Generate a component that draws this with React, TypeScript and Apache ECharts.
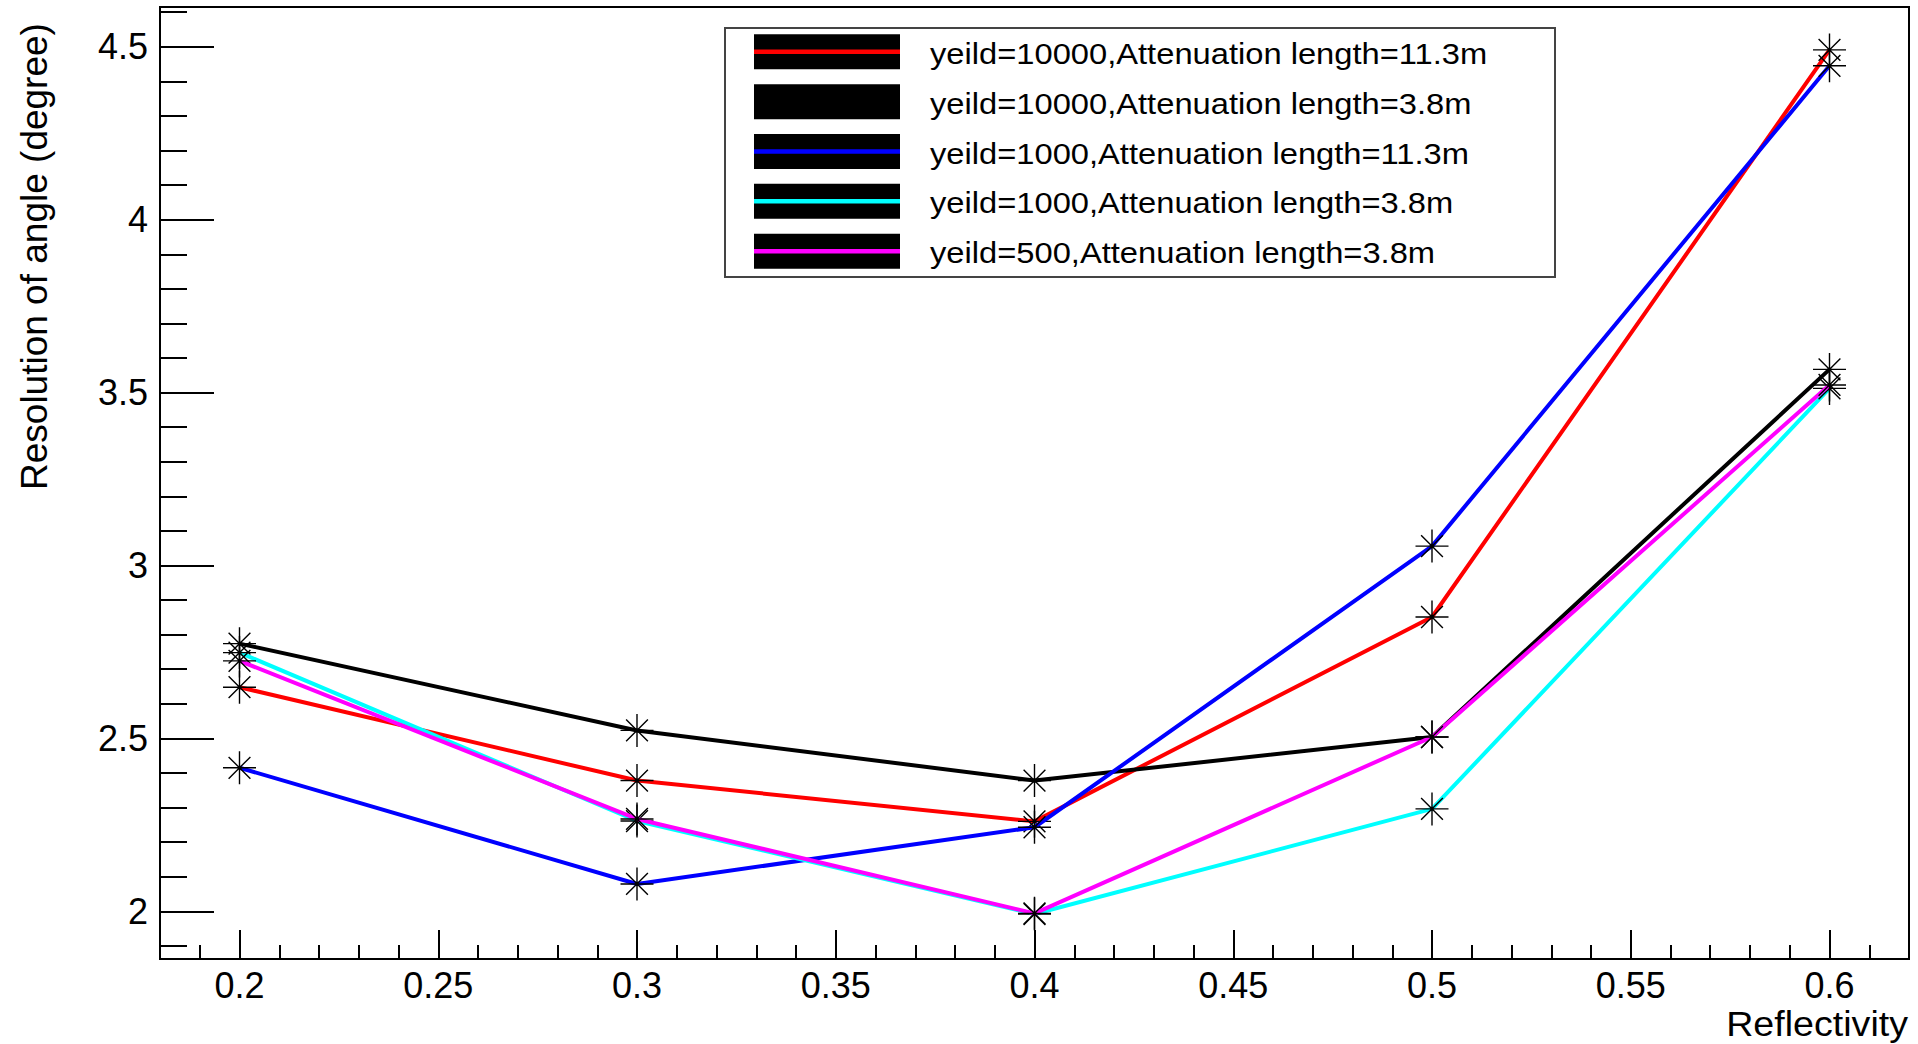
import React, { useEffect, useRef } from "react";
import * as echarts from "echarts";

// ---- data ----
const reflectivity = [0.2, 0.3, 0.4, 0.5, 0.6];
const yield10000_att11 = [2.648, 2.378, 2.26, 2.851, 4.491];
const yield10000_att38 = [2.774, 2.523, 2.378, 2.504, 3.567];
const yield1000_att11 = [2.415, 2.079, 2.243, 3.056, 4.445];
const yield1000_att38 = [2.748, 2.261, 1.992, 2.296, 3.512];
const yield500_att38 = [2.724, 2.267, 1.994, 2.504, 3.522];

const seriesNames = [
  "yeild=10000,Attenuation length=11.3m",
  "yeild=10000,Attenuation length=3.8m",
  "yeild=1000,Attenuation length=11.3m",
  "yeild=1000,Attenuation length=3.8m",
  "yeild=500,Attenuation length=3.8m",
];
const seriesValues = [
  yield10000_att11,
  yield10000_att38,
  yield1000_att11,
  yield1000_att38,
  yield500_att38,
];
const seriesColors = ["#ff0000", "#000000", "#0000ff", "#00ffff", "#ff00ff"];

const xTickLabels = [0.2, 0.25, 0.3, 0.35, 0.4, 0.45, 0.5, 0.55, 0.6];
const yTickLabels = [2, 2.5, 3, 3.5, 4, 4.5];
const xTitle = "Reflectivity";
const yTitle = "Resolution of angle (degree)";

const X_MIN = 0.18;
const X_MAX = 0.62;
const Y_MIN = 1.862;
const Y_MAX = 4.615;

const xMinorTicks: number[] = [];
for (let i = 19; i <= 61; i++) xMinorTicks.push(Math.round(i) / 100);
const yMinorTicks: number[] = [];
for (let i = 19; i <= 46; i++) yMinorTicks.push(Math.round(i) / 10);

const FONT = "'Liberation Sans', Arial, Helvetica, sans-serif";
const STAR =
  "path://M0,-1L0,1M-1,0L1,0M-0.66,-0.66L0.66,0.66M-0.66,0.66L0.66,-0.66";

export default function App() {
  const ref = useRef<HTMLDivElement>(null);

  useEffect(() => {
    if (!ref.current) return;
    const chart = echarts.init(ref.current, undefined, { renderer: "svg" });

    const lineStyleAxis = { color: "#000", width: 2 };

    const legendLeft = 725;
    const legendTop = 28;
    const legendW = 830;
    const legendH = 249;
    const rowPitch = 49.85;
    const firstRow = 51.8;

    const legendChildren: any[] = [
      {
        type: "rect",
        shape: { x: legendLeft, y: legendTop, width: legendW, height: legendH },
        style: { fill: "#fff", stroke: "#444", lineWidth: 2 },
      },
    ];
    seriesNames.forEach((name, i) => {
      const cy = firstRow + i * rowPitch;
      legendChildren.push({
        type: "rect",
        shape: { x: 754, y: cy - 17.5, width: 146, height: 35 },
        style: { fill: "#000" },
      });
      legendChildren.push({
        type: "line",
        shape: { x1: 754, y1: cy, x2: 900, y2: cy },
        style: { stroke: seriesColors[i], lineWidth: 4.5 },
      });
      legendChildren.push({
        type: "text",
        x: 930,
        y: cy + 2,
        scaleX: 1.09,
        style: {
          text: name,
          fontSize: 30,
          fontFamily: FONT,
          fill: "#000",
          align: "left",
          verticalAlign: "middle",
        },
      });
    });

    const option: any = {
      animation: false,
      backgroundColor: "#fff",
      grid: {
        left: 160,
        right: 9,
        top: 7,
        bottom: 85,
        show: true,
        borderColor: "#000",
        borderWidth: 2,
        containLabel: false,
        outerBoundsMode: "none",
      },
      xAxis: [
        {
          type: "value",
          min: X_MIN,
          max: X_MAX,
          position: "bottom",
          axisLine: { show: true, lineStyle: lineStyleAxis },
          axisTick: {
            show: true,
            inside: true,
            length: 29,
            customValues: xTickLabels,
            lineStyle: lineStyleAxis,
          },
          axisLabel: {
            show: true,
            customValues: xTickLabels,
            margin: 8,
            fontSize: 36,
            fontFamily: FONT,
            color: "#000",
          },
          splitLine: { show: false },
        },
        {
          type: "value",
          min: X_MIN,
          max: X_MAX,
          position: "bottom",
          axisLine: { show: false },
          axisTick: {
            show: true,
            inside: true,
            length: 14,
            customValues: xMinorTicks,
            lineStyle: lineStyleAxis,
          },
          axisLabel: { show: false },
          splitLine: { show: false },
        },
      ],
      yAxis: [
        {
          type: "value",
          min: Y_MIN,
          max: Y_MAX,
          position: "left",
          axisLine: { show: true, lineStyle: lineStyleAxis },
          axisTick: {
            show: true,
            inside: true,
            length: 54,
            customValues: yTickLabels,
            lineStyle: lineStyleAxis,
          },
          axisLabel: {
            show: true,
            customValues: yTickLabels,
            margin: 12,
            fontSize: 36,
            fontFamily: FONT,
            color: "#000",
          },
          splitLine: { show: false },
        },
        {
          type: "value",
          min: Y_MIN,
          max: Y_MAX,
          position: "left",
          axisLine: { show: false },
          axisTick: {
            show: true,
            inside: true,
            length: 27,
            customValues: yMinorTicks,
            lineStyle: lineStyleAxis,
          },
          axisLabel: { show: false },
          splitLine: { show: false },
        },
      ],
      series: seriesNames.map((name, i) => ({
        type: "line",
        name,
        xAxisIndex: 0,
        yAxisIndex: 0,
        data: reflectivity.map((x, j) => [x, seriesValues[i][j]]),
        symbol: STAR,
        symbolSize: 33,
        showAllSymbol: true,
        lineStyle: { color: seriesColors[i], width: 4 },
        itemStyle: { color: "#000", borderColor: "#000", borderWidth: 1.4 },
        emphasis: { disabled: true },
        silent: true,
        z: 2 + i,
      })),
      graphic: [
        {
          type: "text",
          x: 1908,
          y: 1024,
          scaleX: 1.045,
          style: {
            text: xTitle,
            fontSize: 36,
            fontFamily: FONT,
            fill: "#000",
            align: "right",
            verticalAlign: "middle",
          },
        },
        {
          type: "text",
          x: 34,
          y: 490,
          rotation: Math.PI / 2,
          style: {
            text: yTitle,
            fontSize: 37,
            fontFamily: FONT,
            fill: "#000",
            align: "left",
            verticalAlign: "middle",
          },
        },
        { type: "group", children: legendChildren, z: 100 },
      ],
    };

    chart.setOption(option);
    return () => chart.dispose();
  }, []);

  return (
    <div
      ref={ref}
      style={{
        position: "fixed",
        left: 0,
        top: 0,
        width: 1918,
        height: 1044,
        background: "#fff",
      }}
    />
  );
}
